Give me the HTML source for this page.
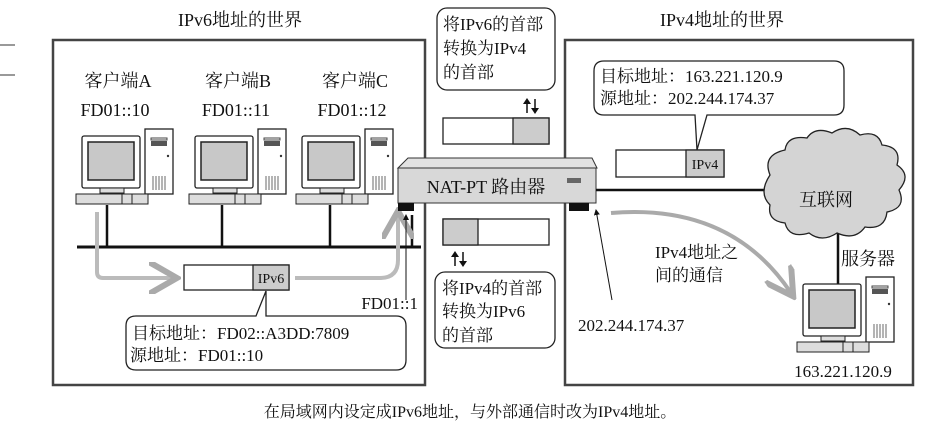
<!DOCTYPE html>
<html><head><meta charset="utf-8"><style>
body{margin:0;background:#fff}
svg text{font-family:"Liberation Serif","Noto Serif CJK SC","Noto Sans CJK SC",serif;fill:#111}
</style></head><body>
<svg width="940" height="430" viewBox="0 0 940 430" xmlns="http://www.w3.org/2000/svg">
<defs>
<g id="pc">
<rect x="63" y="-7" width="28" height="65" fill="#fff" stroke="#222" stroke-width="1.3"/>
<rect x="69" y="5" width="16" height="5" fill="#555"/>
<rect x="69" y="2" width="16" height="2" fill="none" stroke="#444"/>
<circle cx="86" cy="20" r="1.2" fill="#333"/>
<path d="M71 40v14M74 40v14M77 40v14M80 40v14M83 40v14" stroke="#444" stroke-width=".8"/>
<rect x="0" y="0" width="58" height="52" rx="2" fill="#fff" stroke="#222" stroke-width="1.3"/>
<rect x="6" y="6" width="46" height="38" fill="#c8c8c8" stroke="#222" stroke-width="1.5"/>
<rect x="18" y="52" width="24" height="5" fill="#ddd" stroke="#222"/>
<rect x="-6" y="58" width="72" height="10" fill="#ddd" stroke="#222"/>
<path d="M40 58v10M50 58v10" stroke="#222"/>
</g>
<marker id="ga" markerWidth="8" markerHeight="8" refX="6" refY="4" orient="auto"><path d="M0 0L7 4L0 8" fill="none" stroke="#aaa" stroke-width="1.5"/></marker>
<marker id="ba" markerWidth="6" markerHeight="6" refX="5" refY="3" orient="auto"><path d="M0 0L6 3L0 6z" fill="#111"/></marker>
</defs>
<path d="M0 45h15M0 75h15" stroke="#333"/>
<text x="240" y="26" font-size="18" text-anchor="middle">IPv6地址的世界</text>
<text x="722" y="26" font-size="18" text-anchor="middle">IPv4地址的世界</text>
<rect x="53" y="40" width="372" height="345" fill="none" stroke="#444" stroke-width="2.5"/>
<rect x="565" y="40" width="348" height="345" fill="none" stroke="#444" stroke-width="2.5"/>
<g font-size="18" text-anchor="middle">
<text x="118" y="87">客户端A</text><text x="238" y="87">客户端B</text><text x="355" y="87">客户端C</text>
<text x="115" y="116">FD01::10</text><text x="236" y="116">FD01::11</text><text x="352" y="116">FD01::12</text>
</g>
<use href="#pc" x="82" y="136"/><use href="#pc" x="195" y="136"/><use href="#pc" x="302" y="136"/>
<path d="M107 205v42M222 205v42M330 205v42M412 215v32" stroke="#111" stroke-width="2.5"/>
<path d="M77 247h344" stroke="#111" stroke-width="3"/>
<path d="M97 212v60q0 6 6 6h70" fill="none" stroke="#bbb" stroke-width="4" marker-end="url(#ga)"/>
<path d="M295 278h85q18 0 18-18v-45" fill="none" stroke="#bbb" stroke-width="4" marker-end="url(#ga)"/>
<rect x="184" y="265" width="105" height="25" fill="#fff" stroke="#222" stroke-width="1.3"/>
<rect x="253" y="265" width="36" height="25" fill="#ccc" stroke="#222" stroke-width="1.3"/>
<text x="271" y="283" font-size="14" text-anchor="middle">IPv6</text>
<path d="M136 316h120l10-25v25h130q10 0 10 10v34q0 10-10 10H136q-10 0-10-10v-34q0-10 10-10z" fill="#fff" stroke="#222" stroke-width="1.3"/>
<text x="132" y="339" font-size="17">目标地址：FD02::A3DD:7809</text>
<text x="130" y="361" font-size="17">源地址：FD01::10</text>
<path d="M406 300V215" stroke="#111" marker-end="url(#ba)"/>
<text x="418" y="309" font-size="17" text-anchor="end">FD01::1</text>
<path d="M398 168l10-10h184l5 10z" fill="#e2e2e2" stroke="#333"/>
<rect x="398" y="168" width="198" height="35" fill="#d8d8d8" stroke="#333"/>
<rect x="398" y="203" width="16" height="8" fill="#111"/><rect x="569" y="203" width="20" height="8" fill="#111"/>
<rect x="567" y="178" width="14" height="5" fill="#666"/>
<text x="486" y="193" font-size="18" text-anchor="middle">NAT-PT 路由器</text>
<rect x="437" y="8" width="118" height="82" rx="10" fill="#fff" stroke="#222" stroke-width="1.3"/>
<g font-size="17"><text x="443" y="30">将IPv6的首部</text><text x="443" y="54">转换为IPv4</text><text x="443" y="78">的首部</text></g>
<path d="M527 113v-12M535 99v12" stroke="#111" stroke-width="1.5"/><path d="M523 104l4-6 4 6zM531 108l4 6 4-6z" fill="#111"/>
<rect x="443" y="118" width="106" height="26" fill="#fff" stroke="#222" stroke-width="1.3"/>
<rect x="513" y="118" width="36" height="26" fill="#ccc" stroke="#222" stroke-width="1.3"/>
<rect x="443" y="219" width="106" height="26" fill="#fff" stroke="#222" stroke-width="1.3"/>
<rect x="443" y="219" width="35" height="26" fill="#ccc" stroke="#222" stroke-width="1.3"/>
<path d="M455 266v-12M463 252v12" stroke="#111" stroke-width="1.5"/><path d="M451 257l4-6 4 6zM459 261l4 6 4-6z" fill="#111"/>
<rect x="435" y="272" width="120" height="76" rx="10" fill="#fff" stroke="#222" stroke-width="1.3"/>
<g font-size="17"><text x="442" y="294">将IPv4的首部</text><text x="442" y="317">转换为IPv6</text><text x="442" y="341">的首部</text></g>
<path d="M604 61h230q10 0 10 10v34q0 10-10 10H707l-10 35-2-35H604q-10 0-10-10V71q0-10 10-10z" fill="#fff" stroke="#222" stroke-width="1.3"/>
<text x="600" y="82" font-size="17">目标地址：163.221.120.9</text>
<text x="600" y="104" font-size="17">源地址：202.244.174.37</text>
<rect x="616" y="150" width="108" height="27" fill="#fff" stroke="#222" stroke-width="1.3"/>
<rect x="686" y="150" width="38" height="27" fill="#ccc" stroke="#222" stroke-width="1.3"/>
<text x="705" y="169" font-size="14" text-anchor="middle">IPv4</text>
<path d="M596 190h170" stroke="#111" stroke-width="2.5"/>
<path d="M838 190v95" stroke="#111" stroke-width="2.5"/>
<path d="M770 175q-8-20 15-25q2-15 22-12q8-12 25-5q15-10 28 2q18-5 22 10q20 2 15 20q15 10 2 25q8 18-12 22q-2 18-22 15q-10 14-28 6q-15 10-28 0q-20 6-24-10q-18-2-15-18q-12-12 0-30z" fill="#d4d4d4" stroke="#222" stroke-width="1.3"/>
<text x="826" y="206" font-size="18" text-anchor="middle">互联网</text>
<path d="M611 213q120-10 180 80" fill="none" stroke="#aaa" stroke-width="4" marker-end="url(#ga)"/>
<text x="655" y="258" font-size="17">IPv4地址之</text>
<text x="655" y="281" font-size="17">间的通信</text>
<text x="868" y="265" font-size="18" text-anchor="middle">服务器</text>
<use href="#pc" x="803" y="284"/>
<path d="M612 300L596 210" stroke="#111" marker-end="url(#ba)"/>
<text x="578" y="331" font-size="17">202.244.174.37</text>
<text x="843" y="377" font-size="17" text-anchor="middle">163.221.120.9</text>
<text x="470" y="417" font-size="16" text-anchor="middle">在局域网内设定成IPv6地址，与外部通信时改为IPv4地址。</text>
</svg>
</body></html>
